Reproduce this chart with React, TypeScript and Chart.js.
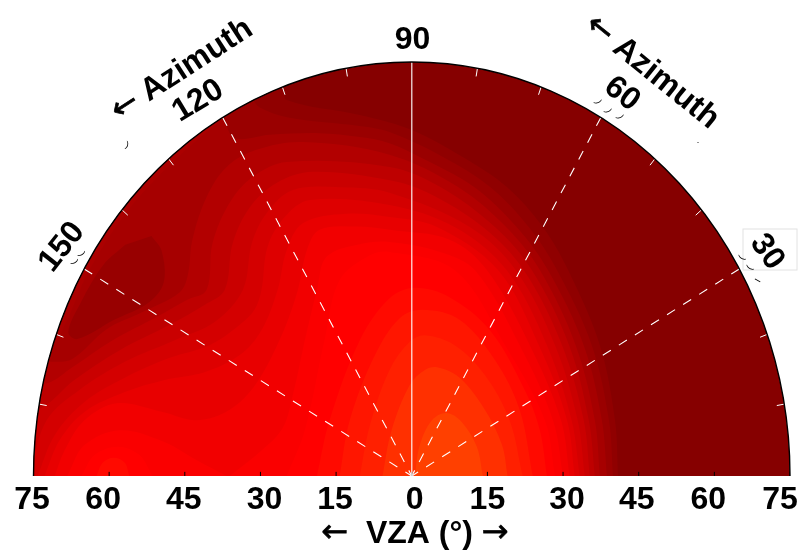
import React, { useEffect, useRef } from "react";
import { Chart, registerables } from "chart.js";

Chart.register(...registerables);

type P = [number, number];

// Contour outlines, in (signed VZA east-west, signed VZA north-south) degrees.
const contourA: P[] = [[40.9,0],[40.3,10.1],[37.3,23.7],[31,37.3],[26,45.1],[18.8,52.4],[10.1,57.8],[0,62.7],[-10.3,65.4],[-24.8,68.1],[-25.6,70.8],[-40,80],[-85,80],[-85,0]];
const contourB: P[] = [[39.9,0],[39.1,10.1],[35.7,23.7],[28.8,37.3],[23.2,45.1],[15.5,52.4],[6.2,57.8],[-4.4,62.3],[-10.3,63.4],[-24.2,64.9],[-30.2,66.8],[-32.1,69],[-45,80],[-85,80],[-85,0]];
const contourC: P[] = [[38.7,0],[37.7,10.1],[34.1,23.7],[27,37.3],[20.8,45.1],[12.3,52.4],[1.6,57.8],[-4.4,60.3],[-10.3,61.4],[-18.3,62.1],[-28.2,61.8],[-35.1,61.2],[-37.3,64.9],[-45,80],[-85,80],[-85,0]];
const rimD: P[] = [[-37.3,64.9],[-47.6,56.7],[-56.7,47.6],[-64.1,37],[-68.6,27.7],[-71,24.6],[-85,25],[-85,80],[-45,80]];
const blobB: P[] = [[-51.6,43.5],[-49.6,40.8],[-49.2,35],[-52.2,31.4],[-59,28.3],[-66.3,24.8],[-68.1,26.1],[-65.7,31.3],[-61.2,38.2],[-56.8,41.9]];
const contourD: P[] = [[37.3,0],[36.3,10.1],[32.5,23.7],[25.4,37.3],[18.7,45.1],[9.1,52.4],[-4.4,58.2],[-21.6,60.5],[-30.8,59.1],[-36.7,56],[-40.7,50.5],[-43.5,42.8],[-44.4,36.4],[-46,33.3],[-53.4,29.7],[-60.5,26.6],[-67.3,21.2],[-71.2,20.7],[-85,21],[-85,0]];
const contourE: P[] = [[36.3,0],[35.1,10.1],[31.2,23.7],[23.8,37.3],[16.5,45.1],[5.6,52.4],[-4.4,56],[-24.8,56.9],[-31.5,54.2],[-36.1,49.5],[-39.5,42.2],[-40.7,33.7],[-44.6,31.9],[-50.6,28.8],[-59.3,24.6],[-67.3,19.7],[-72.4,16.8],[-85,16],[-85,0]];
const contourF: P[] = [[35.3,0],[34.1,10.1],[29.8,23.7],[22.2,37.3],[14.1,45.1],[3,51.4],[-4.4,53.6],[-19.6,55.1],[-26.8,53.1],[-32.1,48.7],[-35.5,42.2],[-37.1,33.7],[-41.1,31],[-48,27.4],[-57.9,22.8],[-66.9,17.4],[-74.2,12],[-85,11],[-85,0]];
const contourG: P[] = [[34.3,0],[32.9,10.1],[28.4,23.7],[20.6,37.3],[11.5,45.1],[-4.4,51.3],[-14,52.3],[-23.6,51.8],[-28.8,47.6],[-31.7,42.2],[-33.5,33.7],[-39.1,27.9],[-47,24.6],[-56.9,20.7],[-65.9,15.6],[-72.4,10.1],[-75.8,0]];
const contourH: P[] = [[33.3,0],[31.7,10.1],[26.8,23.7],[18.8,37.3],[8.5,45.1],[-4.4,49.1],[-20.2,50],[-25.2,46.9],[-28.6,41.5],[-29.8,33.7],[-31.2,30.1],[-34.1,27.4],[-40.1,23.7],[-48,21.4],[-56.9,17.8],[-64.9,13.4],[-70.8,7.4],[-74.2,0]];
const contourI: P[] = [[32.3,0],[30.8,10.1],[25.2,23.7],[17.1,37.3],[5,45.1],[-4.4,46.9],[-13,47.5],[-21.6,45.8],[-24.8,40.9],[-26.6,33.7],[-29.8,26.4],[-34.1,21.9],[-41.1,18.8],[-49,17.4],[-56.9,15.2],[-64.9,11.6],[-69.8,6.5],[-72.8,0]];
const contourJ: P[] = [[31.3,0],[29.6,10.1],[23.4,23.7],[14.9,37.3],[7.5,42.8],[-4.4,44.6],[-11,45.2],[-18.3,44.6],[-20.8,40.9],[-22.6,33.7],[-25.6,25.9],[-30.8,16.8],[-36.1,12],[-42.7,10.1],[-49.4,11.6],[-58.5,13.2],[-64.9,10.1],[-68.8,4.7],[-70.8,0]];
const contourK: P[] = [[30,0],[28,10.1],[21.4,23.7],[12.5,37.3],[5.6,40.6],[-4.4,42.4],[-10.3,42],[-16.9,39.7],[-18.8,33.7],[-21.2,24.6],[-23.5,15],[-25.6,8.7],[-30.2,4.3],[-36.1,0]];
const bumpK: P[] = [[-68.3,0],[-64.9,5.6],[-57.9,8.3],[-49.4,6.3],[-42.7,2.9],[-36.7,0]];
const contourL: P[] = [[28.4,0],[26.4,10.1],[18.5,23.7],[8.5,37.3],[-4.4,40.6],[-8.3,40],[-14.3,35.5],[-17.3,24.6],[-21.2,8.3],[-24.8,0]];
const bumpL: P[] = [[-65.5,0],[-62.9,3.8],[-58.3,5.3],[-54,3.8],[-51.4,0]];
const contourM: P[] = [[26.8,0],[25.4,8.3],[22.4,15.6],[15.5,26.4],[7.5,32.4],[0.6,34.1],[-4.4,32.2],[-10.3,24.6],[-16.3,10.1],[-18.8,0]];
const bumpM: P[] = [[-62.5,0],[-61.3,2.4],[-59.1,3.3],[-56.9,2.4],[-56,0]];
const contourN: P[] = [[24,0],[21.4,12],[16.5,21],[9.5,28.3],[2.2,30.1],[-2.4,28.6],[-7.3,21.9],[-12.3,10.1],[-14.3,0]];
const contourO: P[] = [[22,0],[19.4,10.1],[14.5,18.3],[8.5,23.7],[2.6,25.5],[-0.4,24.3],[-4.4,19.2],[-8.3,9.2],[-10.3,0]];
const contourP: P[] = [[19,0],[17.9,5.6],[14.5,12],[9.5,17.8],[5,19.7],[2.6,19.2],[-0.4,16.5],[-4,8.3],[-5.8,0]];
const contourQ: P[] = [[14.1,0],[12.9,5.3],[9.9,9.8],[6.9,11.4],[4,10.1],[1.6,5.6],[0.6,0]];

// Painted bottom to top.
const layers: [P[], string][] = [
  [contourA, "#900000"],
  [contourB, "#9a0000"],
  [contourC, "#a60000"],
  [rimD, "#ab0000"],
  [blobB, "#980000"],
  [contourD, "#b20000"],
  [contourE, "#be0000"],
  [contourF, "#ca0000"],
  [contourG, "#d40000"],
  [contourH, "#de0000"],
  [contourI, "#e80000"],
  [contourJ, "#f20000"],
  [contourK, "#fa0000"],
  [bumpK, "#fa0000"],
  [contourL, "#ff0000"],
  [bumpL, "#ff0000"],
  [contourM, "#ff0a00"],
  [bumpM, "#ff0a00"],
  [contourN, "#ff1600"],
  [contourO, "#ff2000"],
  [contourP, "#ff3000"],
  [contourQ, "#ff4000"],
];

const BASE_COLOUR = "#860000";
const R_MAX = 75;
const vzaTicks = [-75, -60, -45, -30, -15, 0, 15, 30, 45, 60, 75];
const vzaLabelShift = [-1.5, -6, -1, 4, -1, 3, 0, 4, -2, -6, -10];
const spokeAzimuths = [30, 60, 120, 150];
const minorAzimuths = [10, 20, 40, 50, 70, 80, 100, 110, 130, 140, 160, 170];
const azimuthLabels = ["30", "60", "90", "120", "150"];

const rad = (d: number) => (d * Math.PI) / 180;
const polar = (az: number, r: number) => ({ x: r * Math.cos(rad(az)), y: r * Math.sin(rad(az)) });

const FONT = "bold 32px 'Liberation Sans'";
const ARROW_FONT = "32px 'DejaVu Sans'";

const texts: { t: string; x: number; y: number; rot: number }[] = [
  { t: azimuthLabels[0], x: 767, y: 252, rot: 55 },
  { t: azimuthLabels[1], x: 622, y: 94, rot: 38 },
  { t: azimuthLabels[2], x: 412.5, y: 40, rot: 0 },
  { t: azimuthLabels[3], x: 198, y: 101, rot: -31 },
  { t: azimuthLabels[4], x: 62, y: 247, rot: -52 },
];

// Mixed-font captions: [text, isArrow] runs.
const captions: { runs: [string, boolean][]; x: number; y: number; rot: number }[] = [
  { runs: [["←", true], [" Azimuth", false]], x: 182, y: 70, rot: -33 },
  { runs: [["←", true], [" Azimuth", false]], x: 652, y: 72, rot: 39 },
  { runs: [["←", true], ["  VZA (°) ", false], ["→", true]], x: 415, y: 534, rot: 0 },
];

const specks: { t: string; x: number; y: number; rot: number }[] = [
  { t: ")", x: 127, y: 145, rot: 15 },
  { t: ")", x: 75, y: 262, rot: 60 },
  { t: ")", x: 82, y: 254, rot: 60 },
  { t: ")", x: 598, y: 102, rot: 70 },
  { t: ")", x: 608, y: 111, rot: 70 },
  { t: ")", x: 620, y: 117, rot: 70 },
  { t: ".", x: 698, y: 141, rot: 0 },
  { t: ")", x: 742, y: 258, rot: 120 },
  { t: ")", x: 750, y: 268, rot: 120 },
  { t: "I", x: 757, y: 280, rot: 120 },
];

const framePlugin = {
  id: "frame",
  beforeDatasetsDraw(chart: any) {
    const { ctx, scales } = chart;
    const cx = scales.x.getPixelForValue(0);
    const cy = scales.y.getPixelForValue(0);
    const rx = scales.x.getPixelForValue(R_MAX) - cx;
    const ry = cy - scales.y.getPixelForValue(R_MAX);
    ctx.save();
    ctx.beginPath();
    ctx.ellipse(cx, cy, rx, ry, 0, Math.PI, 2 * Math.PI);
    ctx.closePath();
    ctx.fillStyle = BASE_COLOUR;
    ctx.fill();
    ctx.clip();
  },
  afterDatasetsDraw(chart: any) {
    const { ctx, scales } = chart;
    ctx.restore();
    const cx = scales.x.getPixelForValue(0);
    const cy = scales.y.getPixelForValue(0);
    const rx = scales.x.getPixelForValue(R_MAX) - cx;
    const ry = cy - scales.y.getPixelForValue(R_MAX);
    ctx.save();
    ctx.beginPath();
    ctx.ellipse(cx, cy, rx, ry, 0, Math.PI, 2 * Math.PI);
    ctx.strokeStyle = "#000";
    ctx.lineWidth = 1.4;
    ctx.stroke();
    ctx.restore();
  },
  afterDraw(chart: any) {
    const { ctx, scales } = chart;
    ctx.save();
    ctx.fillStyle = "#fff";
    ctx.strokeStyle = "#e2e2e2";
    ctx.lineWidth = 1;
    ctx.fillRect(743, 229, 54, 41);
    ctx.strokeRect(743, 229, 54, 41);
    ctx.fillStyle = "#000";
    ctx.textAlign = "center";
    ctx.textBaseline = "alphabetic";
    ctx.font = FONT;
    vzaTicks.forEach((v, i) => {
      ctx.fillText(String(Math.abs(v)), scales.x.getPixelForValue(v) + vzaLabelShift[i], 508.5);
    });
    ctx.textBaseline = "middle";
    texts.forEach((s) => {
      ctx.save();
      ctx.translate(s.x, s.y);
      ctx.rotate(rad(s.rot));
      ctx.font = FONT;
      ctx.fillText(s.t, 0, 0);
      ctx.restore();
    });
    ctx.textAlign = "left";
    ctx.strokeStyle = "#000";
    ctx.lineWidth = 0.7;
    captions.forEach((c) => {
      ctx.save();
      ctx.translate(c.x, c.y);
      ctx.rotate(rad(c.rot));
      let total = 0;
      c.runs.forEach(([t, arrow]) => {
        ctx.font = arrow ? ARROW_FONT : FONT;
        total += ctx.measureText(t).width;
      });
      let pen = -total / 2;
      c.runs.forEach(([t, arrow]) => {
        ctx.font = arrow ? ARROW_FONT : FONT;
        ctx.fillText(t, pen, 0);
        if (arrow) ctx.strokeText(t, pen, 0);
        pen += ctx.measureText(t).width;
      });
      ctx.restore();
    });
    ctx.textAlign = "center";
    specks.forEach((s) => {
      ctx.save();
      ctx.translate(s.x, s.y);
      ctx.rotate(rad(s.rot));
      ctx.font = "9px 'Liberation Sans'";
      ctx.fillText(s.t, 0, 0);
      ctx.restore();
    });
    ctx.restore();
  },
};

export default function App() {
  const ref = useRef<HTMLCanvasElement>(null);
  useEffect(() => {
    const datasets: any[] = [];
    layers.forEach(([pts, colour], i) => {
      datasets.push({
        data: pts.map(([x, y]) => ({ x, y })),
        showLine: true,
        fill: "shape",
        backgroundColor: colour,
        borderWidth: 0,
        pointRadius: 0,
        tension: 0.35,
        order: 1000 - i,
      });
    });
    const lineBase = { showLine: true, fill: false, pointRadius: 0, tension: 0 };
    spokeAzimuths.forEach((az) => {
      datasets.push({
        ...lineBase,
        data: [polar(az, R_MAX), polar(az, 0)],
        borderColor: "#ffffff",
        borderWidth: 1.1,
        borderDash: [9.5, 9.5],
        order: 10,
      });
    });
    minorAzimuths.forEach((az) => {
      datasets.push({
        ...lineBase,
        data: [polar(az, R_MAX), polar(az, R_MAX - 1.5)],
        borderColor: "#ffffff",
        borderWidth: 1,
        order: 10,
      });
    });
    datasets.push({
      ...lineBase,
      data: [polar(90, R_MAX), polar(90, 0)],
      borderColor: "rgba(255,255,255,0.75)",
      borderWidth: 1.5,
      order: 9,
    });
    vzaTicks.forEach((v) => {
      datasets.push({
        ...lineBase,
        data: [{ x: v, y: 0 }, { x: v, y: 0.75 }],
        borderColor: "#000000",
        borderWidth: 1,
        order: 9,
      });
    });
    const chart = new Chart(ref.current!, {
      type: "scatter",
      data: { datasets },
      plugins: [framePlugin],
      options: {
        animation: false,
        responsive: false,
        devicePixelRatio: 1,
        layout: { padding: { left: 33.5, right: 10, top: 62, bottom: 76 } },
        plugins: { legend: { display: false }, tooltip: { enabled: false } },
        scales: {
          x: { type: "linear", display: false, min: -R_MAX, max: R_MAX },
          y: { type: "linear", display: false, min: 0, max: R_MAX },
        },
      },
    } as any);
    return () => chart.destroy();
  }, []);
  return (
    <canvas
      ref={ref}
      width={800}
      height={552}
      style={{ position: "absolute", left: 0, top: 0, display: "block", width: 800, height: 552 }}
    />
  );
}
